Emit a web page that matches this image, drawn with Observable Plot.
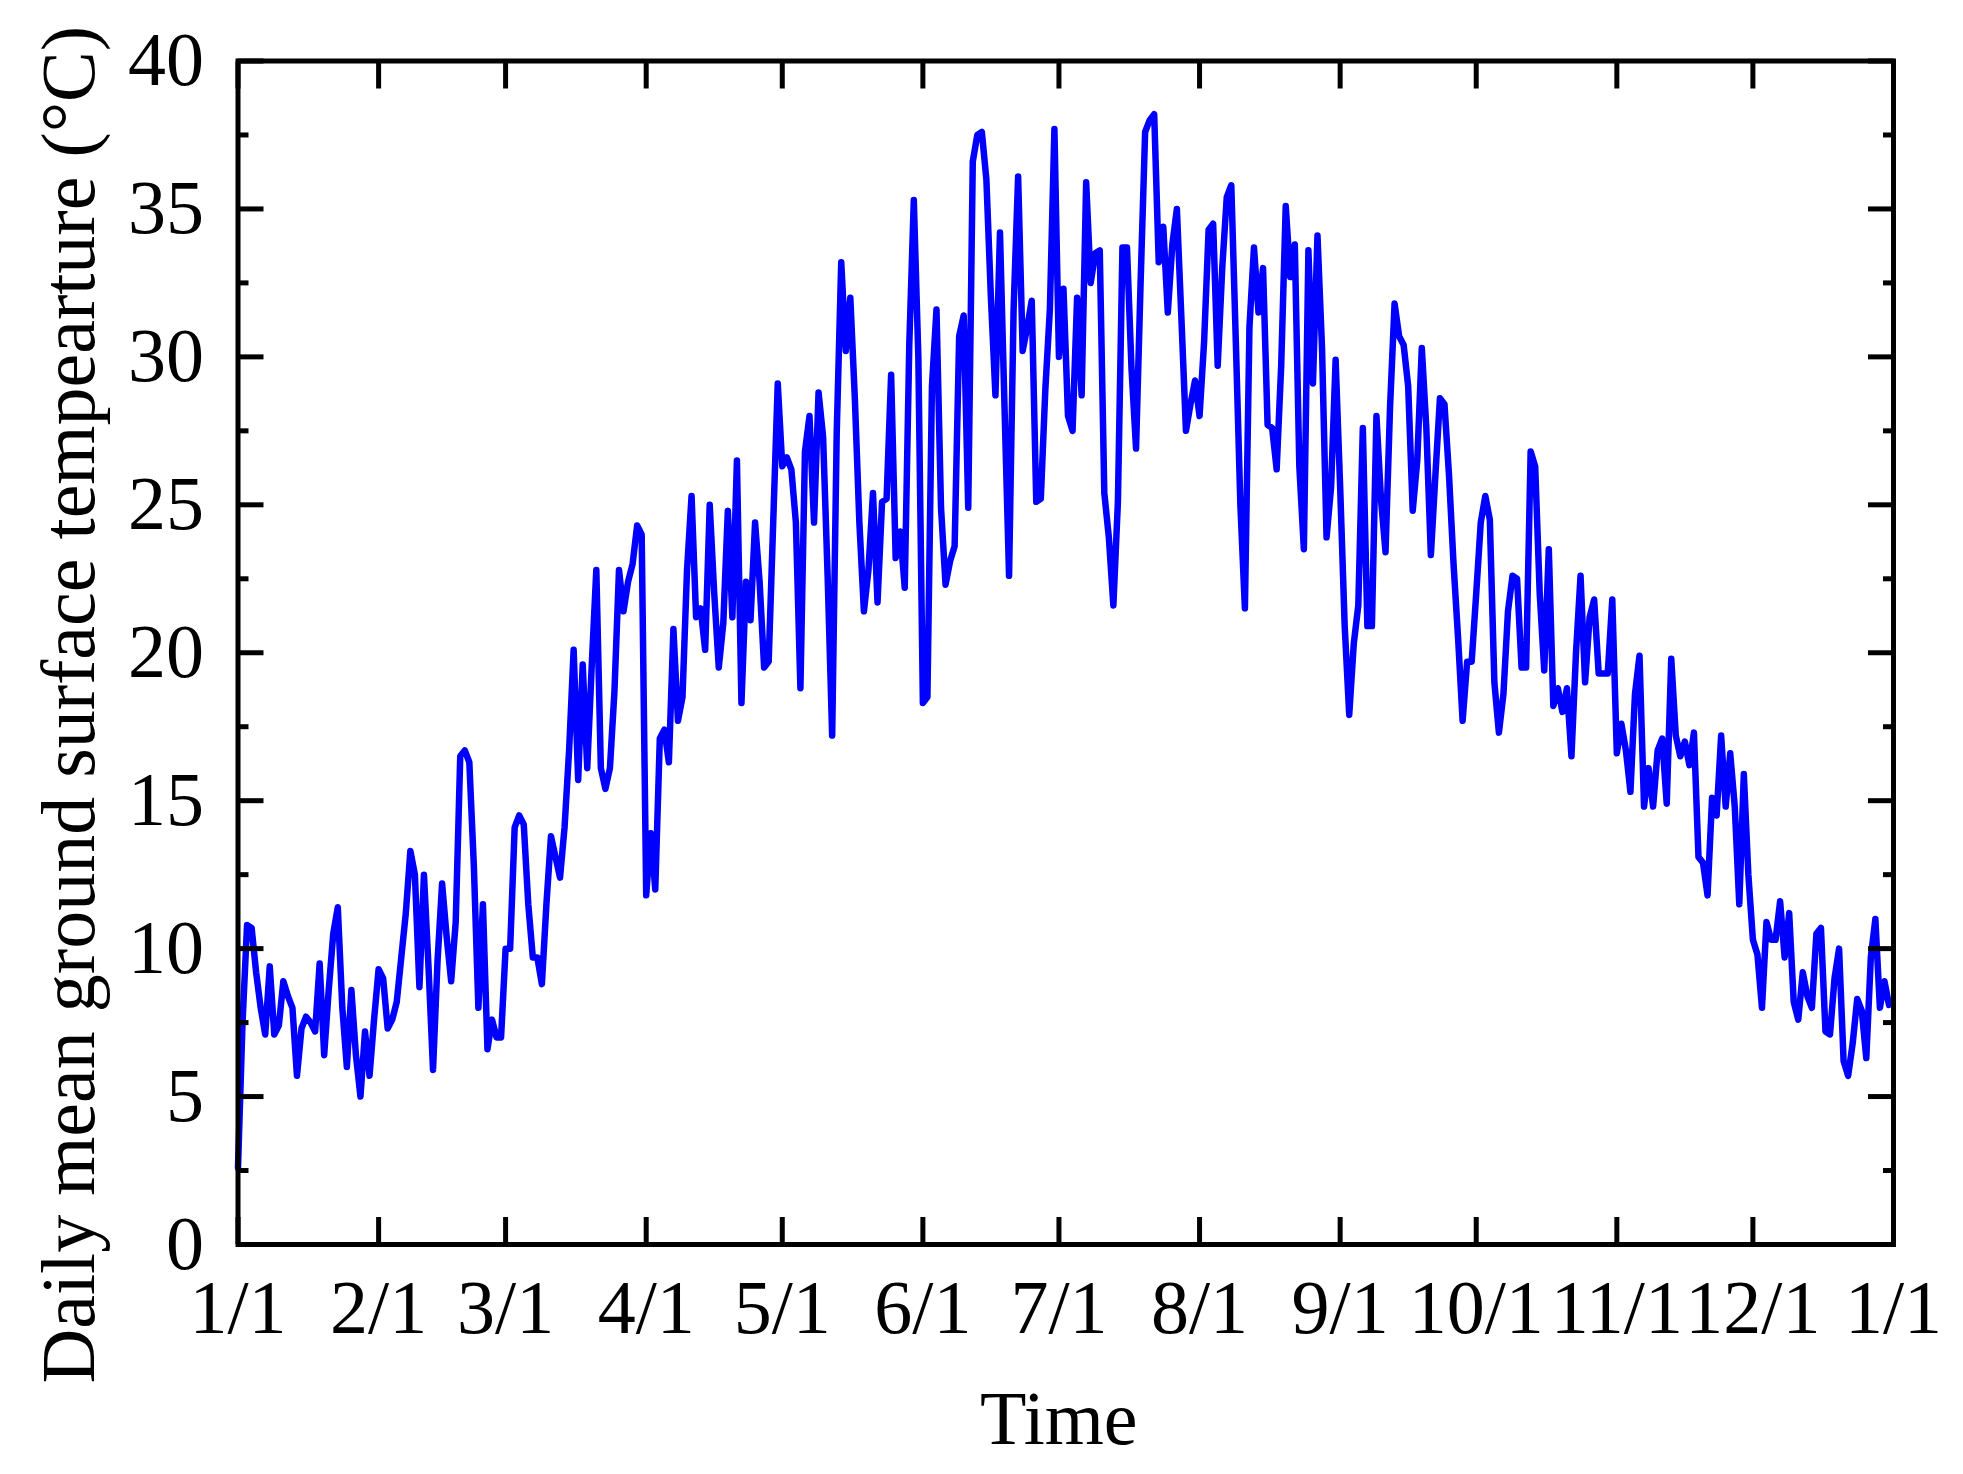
<!DOCTYPE html>
<html>
<head>
<meta charset="utf-8">
<script src="https://cdn.jsdelivr.net/npm/d3@7"></script>
<script src="https://cdn.jsdelivr.net/npm/@observablehq/plot@0.6"></script>
<style>
  html, body { margin: 0; padding: 0; background: #ffffff; }
  #chart { width: 1963px; height: 1474px; }
</style>
</head>
<body>
<div id="chart"></div>
<script>
// Daily mean ground surface temperature (°C), day 0 = 1/1 ... day 364 = 12/31
const temperature = [
  2.6, 7.5, 10.8, 10.7, 9.2, 8.0, 7.1, 9.4, 7.1, 7.4,
  8.9, 8.4, 8.0, 5.7, 7.3, 7.7, 7.5, 7.2, 9.5, 6.4,
  8.6, 10.5, 11.4, 8.0, 6.0, 8.6, 6.4, 5.0, 7.2, 5.7,
  7.6, 9.3, 9.0, 7.3, 7.6, 8.2, 9.7, 11.2, 13.3, 12.5,
  8.7, 12.5, 9.4, 5.9, 9.6, 12.2, 10.4, 8.9, 10.9, 16.5,
  16.7, 16.3, 12.8, 8.0, 11.5, 6.6, 7.6, 7.0, 7.0, 10.0,
  10.0, 14.1, 14.5, 14.2, 11.5, 9.7, 9.7, 8.8, 11.5, 13.8,
  13.1, 12.4, 14.1, 16.7, 20.1, 15.7, 19.6, 16.1, 19.6, 22.8,
  16.1, 15.4, 16.1, 18.7, 22.8, 21.4, 22.4, 23.0, 24.3, 24.0,
  11.8, 13.9, 12.0, 17.1, 17.4, 16.3, 20.8, 17.7, 18.5, 22.8,
  25.3, 21.2, 21.5, 20.1, 25.0, 22.0, 19.5, 21.0, 24.8, 21.2,
  26.5, 18.3, 22.4, 21.1, 24.4, 22.4, 19.5, 19.7, 24.4, 29.1,
  26.3, 26.6, 26.2, 24.4, 18.8, 26.8, 28.0, 24.4, 28.8, 27.3,
  22.6, 17.2, 27.4, 33.2, 30.2, 32.0, 28.6, 24.4, 21.4, 22.8,
  25.4, 21.7, 25.1, 25.2, 29.4, 23.2, 24.1, 22.2, 30.4, 35.3,
  30.0, 18.3, 18.5, 29.0, 31.6, 24.9, 22.3, 23.1, 23.6, 30.7,
  31.4, 24.9, 36.6, 37.5, 37.6, 36.0, 32.0, 28.7, 34.2, 28.3,
  22.6, 31.6, 36.1, 30.2, 31.0, 31.9, 25.1, 25.2, 28.9, 31.6,
  37.7, 30.0, 32.3, 28.0, 27.5, 32.0, 28.7, 35.9, 32.5, 33.5,
  33.6, 25.4, 23.9, 21.6, 25.1, 33.7, 33.7, 29.6, 26.9, 32.5,
  37.6, 38.0, 38.2, 33.2, 34.4, 31.5, 33.8, 35.0, 31.3, 27.5,
  28.4, 29.2, 28.0, 30.5, 34.3, 34.5, 29.7, 33.0, 35.4, 35.8,
  30.5, 25.0, 21.5, 31.0, 33.7, 31.5, 33.0, 27.7, 27.6, 26.2,
  29.7, 35.1, 32.7, 33.8, 26.3, 23.5, 33.6, 29.1, 34.1, 30.3,
  23.9, 25.6, 29.9, 25.6, 20.9, 17.9, 20.3, 21.6, 27.6, 20.9,
  20.9, 28.0, 25.2, 23.4, 28.3, 31.8, 30.7, 30.4, 29.0, 24.8,
  26.5, 30.3, 27.6, 23.3, 26.0, 28.6, 28.4, 26.0, 23.0, 20.5,
  17.7, 19.7, 19.7, 22.0, 24.4, 25.3, 24.5, 19.0, 17.3, 18.6,
  21.4, 22.6, 22.5, 19.5, 19.5, 26.8, 26.3, 22.0, 19.4, 23.5,
  18.2, 18.8, 18.0, 18.8, 16.5, 20.0, 22.6, 19.0, 21.2, 21.8,
  19.3, 19.3, 19.3, 21.8, 16.6, 17.6, 16.7, 15.3, 18.6, 19.9,
  14.8, 16.1, 14.8, 16.7, 17.1, 14.9, 19.8, 17.2, 16.5, 17.0,
  16.2, 17.3, 13.1, 12.9, 11.8, 15.1, 14.5, 17.2, 14.8, 16.6,
  14.8, 11.5, 15.9, 12.5, 10.3, 9.8, 8.0, 10.9, 10.3, 10.3,
  11.6, 9.7, 11.2, 8.2, 7.6, 9.2, 8.4, 8.0, 10.5, 10.7,
  7.2, 7.1, 9.0, 10.0, 6.2, 5.7, 6.8, 8.3, 7.9, 6.3,
  9.7, 11.0, 8.0, 8.9, 8.1
];

// x-axis: day-of-year positions of month starts and their labels
const monthStartDays = [0, 31, 59, 90, 120, 151, 181, 212, 243, 273, 304, 334, 365];
const monthLabels = ["1/1", "2/1", "3/1", "4/1", "5/1", "6/1", "7/1", "8/1", "9/1", "10/1", "11/1", "12/1", "1/1"];

// y-axis ticks
const yMajorTicks = [0, 5, 10, 15, 20, 25, 30, 35, 40];
const yMinorTicks = [2.5, 7.5, 12.5, 17.5, 22.5, 27.5, 32.5, 37.5];

const xTitle = "Time";
const yTitle = "Daily mean ground surface tempearture (°C)";

const data = temperature.map((v, i) => ({day: i, temp: v}));
const labelOf = new Map(monthStartDays.map((d, i) => [d, monthLabels[i]]));

const FONT = "'Liberation Serif', 'Times New Roman', serif";
const FS = 76;
const TW = 5;

// tick-only axis (no labels): fill "none" suppresses the text
const tickAxisY = (ticks, anchor, size) =>
  Plot.axisY(ticks, {anchor, tickSize: size, fill: "none", stroke: "#000000", strokeWidth: TW, label: null});
const tickAxisX = (ticks, anchor, size) =>
  Plot.axisX(ticks, {anchor, tickSize: size, fill: "none", stroke: "#000000", strokeWidth: TW, label: null});

const chart = Plot.plot({
  width: 1963,
  height: 1474,
  marginLeft: 237.5,
  marginRight: 70,
  marginTop: 60.5,
  marginBottom: 230,
  style: {fontFamily: FONT, background: "#ffffff", color: "#000000"},
  x: {domain: [0, 365]},
  y: {domain: [0, 40]},
  marks: [
    Plot.line(data, {x: "day", y: "temp", stroke: "#0000ff", strokeWidth: 6.5, strokeLinejoin: "round", strokeLinecap: "round"}),
    Plot.frame({stroke: "#000000", strokeWidth: TW}),
    tickAxisY(yMajorTicks, "left", -26),
    tickAxisY(yMinorTicks, "left", -11),
    tickAxisY(yMajorTicks, "right", -26),
    tickAxisY(yMinorTicks, "right", -11),
    tickAxisX(monthStartDays, "bottom", -27),
    tickAxisX(monthStartDays, "top", -27),
    // tick labels
    Plot.axisY(yMajorTicks, {anchor: "left", tickSize: 0, tickPadding: 34, fontSize: FS, fontFamily: FONT, label: null, fill: "#000000"}),
    Plot.axisX(monthStartDays, {anchor: "bottom", tickSize: 0, tickPadding: 35, fontSize: FS, fontFamily: FONT, label: null, fill: "#000000", tickFormat: d => labelOf.get(d)}),
    // axis titles
    Plot.text([xTitle], {frameAnchor: "bottom", text: d => d, dx: -7, dy: 175, fontSize: FS, fontFamily: FONT, lineAnchor: "middle", textAnchor: "middle", fill: "#000000"}),
    Plot.text([yTitle], {frameAnchor: "left", text: d => d, rotate: -90, dx: -168, dy: 52, fontSize: FS, fontFamily: FONT, lineAnchor: "middle", textAnchor: "middle", fill: "#000000"})
  ]
});

document.getElementById("chart").appendChild(chart);
</script>
</body>
</html>
